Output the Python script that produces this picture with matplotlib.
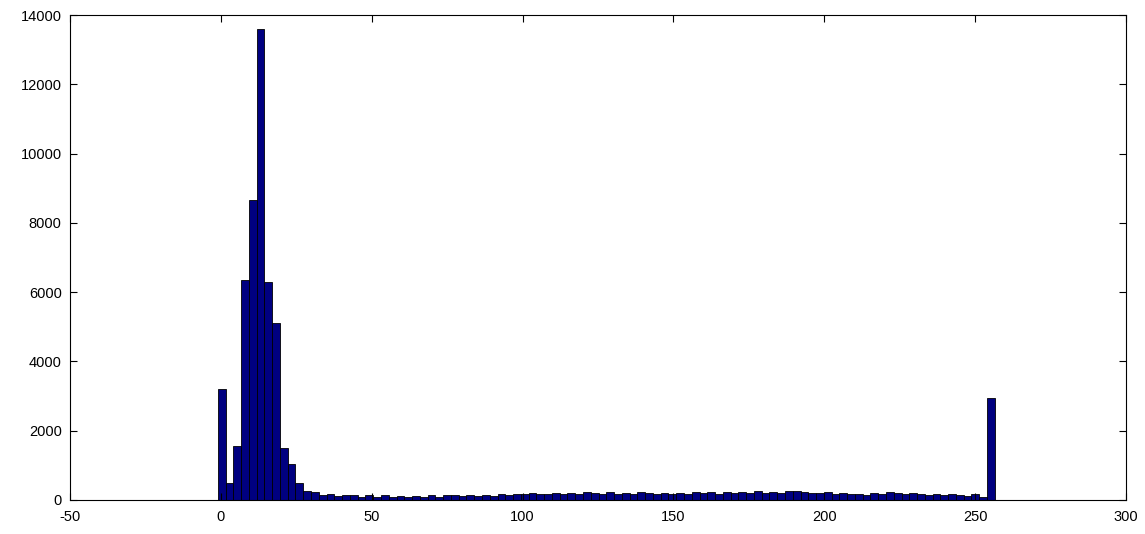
import numpy as np
import matplotlib
matplotlib.use('Agg')
import matplotlib.pyplot as plt

# histogram counts, 100 bins from about -1 to 256.5
counts = [3200, 480, 1550, 6350, 8650, 13600, 6300, 5100, 1500, 1050,
          480, 260, 230, 150, 180, 120, 150, 140, 90, 130,
          100, 130, 90, 110, 80, 120, 90, 130, 100, 140,
          130, 110, 150, 120, 140, 120, 170, 140, 170, 160,
          200, 180, 170, 190, 160, 210, 180, 220, 200, 160,
          220, 180, 200, 170, 220, 200, 160, 190, 170, 200,
          180, 220, 190, 230, 180, 230, 200, 230, 210, 260,
          200, 240, 190, 270, 250, 230, 210, 200, 230, 180,
          200, 170, 180, 150, 190, 180, 220, 190, 160, 200,
          170, 140, 160, 130, 170, 150, 120, 160, 80, 2950]
bin_start = -1.0
bin_width = 2.575

x_ticks = [-50, 0, 50, 100, 150, 200, 250, 300]
y_ticks = [0, 2000, 4000, 6000, 8000, 10000, 12000, 14000]

plt.rcParams['font.family'] = ['Liberation Sans', 'DejaVu Sans']
plt.rcParams['axes.unicode_minus'] = False

fig = plt.figure(figsize=(11.45, 5.34), dpi=100)
ax = fig.add_axes([0.0611, 0.0637, 0.9223, 0.9082])

lefts = bin_start + bin_width * np.arange(len(counts))
ax.bar(lefts, counts, width=bin_width, align='edge',
       color='#000080', edgecolor='black', linewidth=0.6)

ax.set_xlim(-50, 300)
ax.set_ylim(0, 14000)
ax.set_xticks(x_ticks)
ax.set_yticks(y_ticks)
ax.tick_params(direction='in', length=5, top=True, right=True, labelsize=10.5)
ax.tick_params(axis='x', pad=7)
ax.tick_params(axis='y', pad=6)
for s in ax.spines.values():
    s.set_linewidth(0.8)

fig.savefig('out.png', dpi=100)
